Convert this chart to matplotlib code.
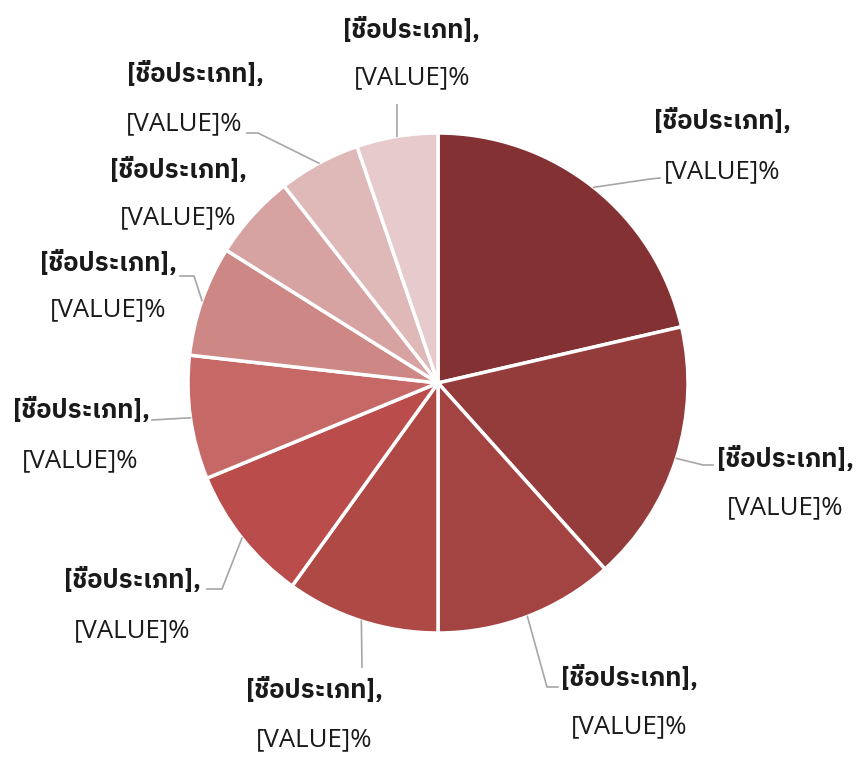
import numpy as np
import matplotlib
matplotlib.use('Agg')
import matplotlib.pyplot as plt

# data
values = [77.0, 61.1, 41.9, 35.7, 31.9, 28.8, 25.7, 19.9, 19.1, 18.9]
names = ['[ชื่อประเภท],'] * 10
value_labels = ['[VALUE]%'] * 10
colors = ['#843134', '#943c3b', '#a34443', '#ae4946', '#ba4c4b',
          '#c66966', '#cd8886', '#d6a3a2', '#dfb8b8', '#e7cacb']

W, H = 860, 759
cx, cy, R = 438, 383, 250

fig = plt.figure(figsize=(W / 100, H / 100), dpi=100)
ax = fig.add_axes([(cx - R) / W, (H - cy - R) / H, 2 * R / W, 2 * R / H])
ax.pie(values, colors=colors, startangle=90, counterclock=False,
       wedgeprops=dict(edgecolor='white', linewidth=2.5))
ax.set_xlim(-1, 1)
ax.set_ylim(-1, 1)
ax.set_aspect('equal')
ax.axis('off')


def px(x, y):
    return (x - cx) / R, (cy - y) / R


# label layout in pixels: (x1, y1, x2, y2, leader points after the edge)
layout = [
    (722, 121, 722, 172, [(650, 179), (660, 178)]),
    (785, 459, 785, 508, [(703, 465), (713, 465)]),
    (629, 678, 629, 727, [(547, 687), (558, 687)]),
    (314, 690, 314, 740, [(362, 667)]),
    (132, 580, 132, 631, [(222, 589), (207, 589)]),
    (81, 410, 80, 461, [(152, 420)]),
    (108, 263, 108, 310, [(194, 276), (180, 276)]),
    (178, 170, 178, 218, []),
    (195, 74, 184, 124, [(258, 133), (247, 133)]),
    (411, 30, 412, 78, [(397, 105)]),
]

thai_fam = ['IBM Plex Sans Thai', 'Prompt', 'Noto Sans Thai', 'DejaVu Sans']
latin_fam = ['Open Sans', 'DejaVu Sans']
total = sum(values)
start = 0.0
for v, name, vl, (x1, y1, x2, y2, pts) in zip(values, names, value_labels, layout):
    mid = np.radians(start + v / total * 360 / 2)
    start += v / total * 360
    ex, ey = np.sin(mid), np.cos(mid)
    if pts:
        xs = [ex] + [px(*p)[0] for p in pts]
        ys = [ey] + [px(*p)[1] for p in pts]
        ax.plot(xs, ys, color='#a6a6a6', lw=1.2, clip_on=False)
    tx, ty = px(x1, y1)
    ax.text(tx, ty, name, ha='center', va='center', fontsize=18.5,
            fontweight='bold', family=thai_fam, color='#1a1a1a')
    tx, ty = px(x2, y2)
    ax.text(tx, ty, vl, ha='center', va='center', fontsize=18.5,
            family=latin_fam, color='#1a1a1a')

fig.savefig('out.png', dpi=100)
